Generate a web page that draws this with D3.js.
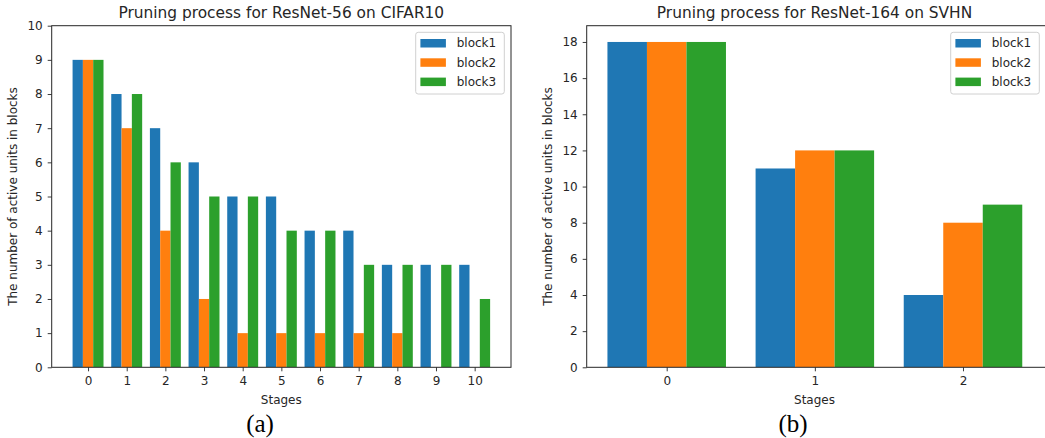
<!DOCTYPE html>
<html><head><meta charset="utf-8">
<script src="https://cdn.jsdelivr.net/npm/d3@7"></script>
<style>
body{margin:0;background:#fff;}
svg{display:block;font-family:"DejaVu Sans",sans-serif;}
</style></head><body>
<svg id="c" width="1045" height="438"></svg>
<script>
const seriesNames = ["block1","block2","block3"];
const colors = ["#1f77b4","#ff7f0e","#2ca02c"];

const stagesA = [0,1,2,3,4,5,6,7,8,9,10];
const block1A = [9,8,7,6,5,5,4,4,3,3,3];
const block2A = [9,7,4,2,1,1,1,1,1,0,0];
const block3A = [9,8,6,5,5,4,4,3,3,3,2];
const yTicksA = [0,1,2,3,4,5,6,7,8,9,10];

const stagesB = [0,1,2];
const block1B = [18,11,4];
const block2B = [18,12,8];
const block3B = [18,12,9];
const yTicksB = [0,2,4,6,8,10,12,14,16,18];

const svg = d3.select("#c");
const textColor = "#262626";

function panel(cfg){
  const g = svg.append("g");
  const x = d3.scaleLinear().domain(cfg.xDomain).range([cfg.left, cfg.right]);
  const y = d3.scaleLinear().domain(cfg.yDomain).range([cfg.bottom, cfg.top]);
  const clipId = "clip" + cfg.id;
  svg.append("clipPath").attr("id", clipId).append("rect")
    .attr("x", cfg.left).attr("y", cfg.top).attr("width", cfg.right - cfg.left).attr("height", cfg.bottom - cfg.top);
  const w = 0.8/3;
  const series = [cfg.s1, cfg.s2, cfg.s3];
  const bars = g.append("g").attr("clip-path", `url(#${clipId})`);
  series.forEach((vals, si) => {
    bars.selectAll(null).data(cfg.stages.map((s,i)=>({s, v: vals[i]})).filter(d=>d.v>0))
      .enter().append("rect")
      .attr("x", d => x(d.s + (si-1)*w - w/2))
      .attr("width", d => x(d.s + (si-1)*w + w/2) - x(d.s + (si-1)*w - w/2))
      .attr("y", d => y(d.v))
      .attr("height", d => y(0) - y(d.v))
      .attr("fill", colors[si]);
  });
  const xa = g.append("g").attr("transform", `translate(0,${cfg.bottom})`)
    .call(d3.axisBottom(x).tickValues(cfg.stages).tickFormat(d3.format("d")).tickSize(4).tickSizeOuter(0).tickPadding(5));
  const ya = g.append("g").attr("transform", `translate(${cfg.left},0)`)
    .call(d3.axisLeft(y).tickValues(cfg.yTicks).tickFormat(d3.format("d")).tickSize(4).tickSizeOuter(0).tickPadding(5));
  [xa, ya].forEach(a => {
    a.select(".domain").remove();
    a.selectAll("line").attr("stroke", textColor).attr("stroke-width", 0.9);
    a.selectAll("text").attr("fill", textColor).attr("font-size", 12).attr("font-family", "DejaVu Sans");
  });
  g.append("rect").attr("x", cfg.left).attr("y", cfg.top)
    .attr("width", cfg.right - cfg.left).attr("height", cfg.bottom - cfg.top)
    .attr("fill", "none").attr("stroke", textColor).attr("stroke-width", 1);
  g.append("text").attr("x", cfg.titleX).attr("y", cfg.top - 8)
    .attr("text-anchor", "middle").attr("font-size", 15.4).attr("fill", textColor).text(cfg.title);
  g.append("text").attr("x", cfg.titleX).attr("y", cfg.bottom + 37)
    .attr("text-anchor", "middle").attr("font-size", 12).attr("fill", textColor).text("Stages");
  g.append("text").attr("transform", `translate(${cfg.ylabX},${(cfg.top+cfg.bottom)/2}) rotate(-90)`)
    .attr("text-anchor", "middle").attr("dy", "0.35em").attr("font-size", 12).attr("fill", textColor)
    .text("The number of active units in blocks");
  const lg = g.append("g");
  lg.append("rect").attr("x", cfg.legX).attr("y", 32.3).attr("width", 88.6).attr("height", 61.7)
    .attr("rx", 2.5).attr("fill", "#fff").attr("fill-opacity", 0.8).attr("stroke", "#d0d0d0").attr("stroke-width", 1);
  seriesNames.forEach((n, i) => {
    const cy = 43 + i*19.3;
    lg.append("rect").attr("x", cfg.legX + 4.7).attr("y", cy - 4).attr("width", 25.5).attr("height", 8.5).attr("fill", colors[i]);
    lg.append("text").attr("x", cfg.legX + 41).attr("y", cy).attr("dy", "0.35em")
      .attr("font-size", 12).attr("fill", textColor).text(n);
  });
  svg.append("text").attr("x", cfg.capX).attr("y", 432).attr("text-anchor", "middle")
    .attr("font-family", "Liberation Serif").attr("font-size", 25).attr("fill", "#000").text(cfg.caption);
}

panel({id:"a", left:51.7, right:511, top:25.7, bottom:367.3, xDomain:[-0.94, 10.94], yDomain:[0,10],
  stages: stagesA, s1: block1A, s2: block2A, s3: block3A, yTicks: yTicksA, titleX: 281.3,
  title:"Pruning process for ResNet-56 on CIFAR10", ylabX:13, legX:415.7, capX:260, caption:"(a)"});
panel({id:"b", left:586.7, right:1047, top:25.7, bottom:367.3, xDomain:[-0.54, 2.567], yDomain:[0,18.9],
  stages: stagesB, s1: block1B, s2: block2B, s3: block3B, yTicks: yTicksB, titleX: 814.5,
  title:"Pruning process for ResNet-164 on SVHN", ylabX:548, legX:950.7, capX:793, caption:"(b)"});
</script>
</body></html>
